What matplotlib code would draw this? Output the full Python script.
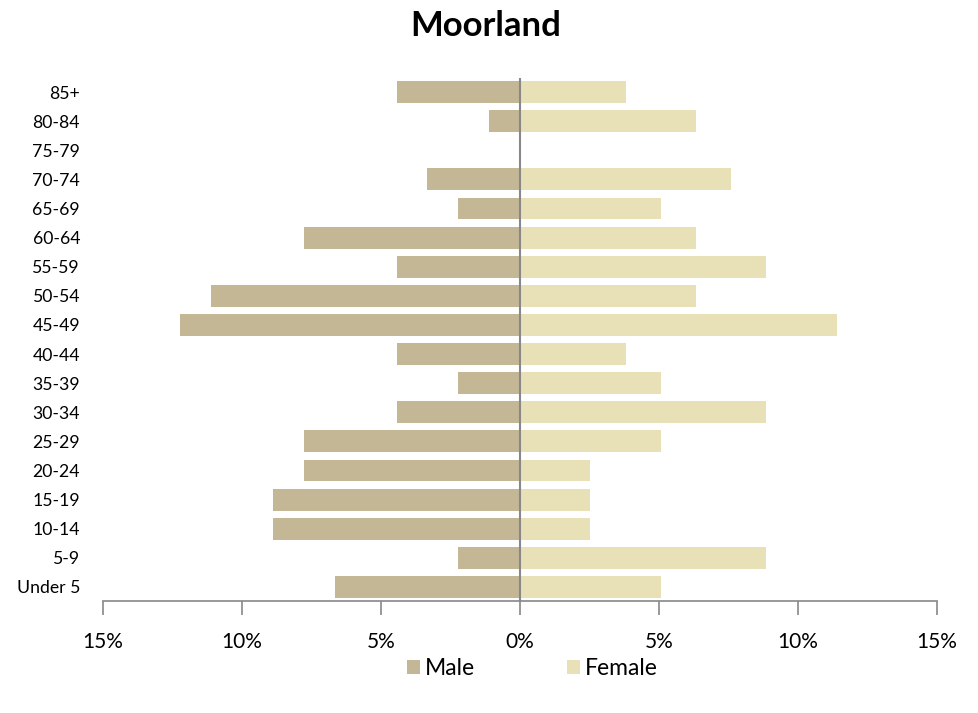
import matplotlib
matplotlib.use("Agg")
from matplotlib import pyplot as plt
from matplotlib.ticker import FuncFormatter
import numpy as np

# age groups, bottom to top
ages = ["Under 5", "5-9", "10-14", "15-19", "20-24", "25-29", "30-34", "35-39",
        "40-44", "45-49", "50-54", "55-59", "60-64", "65-69", "70-74", "75-79",
        "80-84", "85+"]
male = [6.67, 2.22, 8.89, 8.89, 7.78, 7.78, 4.44, 2.22,
        4.44, 12.22, 11.11, 4.44, 7.78, 2.22, 3.33, 0.0,
        1.11, 4.44]
female = [5.06, 8.86, 2.53, 2.53, 2.53, 5.06, 8.86, 5.06,
          3.80, 11.39, 6.33, 8.86, 6.33, 5.06, 7.59, 0.0,
          6.33, 3.80]

plt.rcParams['font.family'] = ['Lato', 'DejaVu Sans']

fig = plt.figure(figsize=(9.79, 7.13), dpi=100)
ax = fig.add_axes([0.1052, 0.1564, 0.8518, 0.7349])

y = np.arange(len(ages))
ax.barh(y, -np.array(male), height=0.75, color="#C4B795", label="Male")
ax.barh(y, female, height=0.75, color="#E8E1B7", label="Female")

ax.set_xlim(-15, 15)
ax.set_ylim(-0.5, len(ages) - 0.5)
ax.set_xticks([-15, -10, -5, 0, 5, 10, 15])
ax.xaxis.set_major_formatter(FuncFormatter(lambda v, p: f"{abs(v):.0f}%"))
ax.set_yticks(y)
ax.set_yticklabels(ages, fontsize=12.7)
ax.tick_params(axis="y", length=0, pad=16.5)
ax.tick_params(axis="x", length=10, width=1.2, color="#888888", pad=12, labelsize=15)

for s in ["top", "right", "left"]:
    ax.spines[s].set_visible(False)
ax.spines["bottom"].set_color("#888888")
ax.spines["bottom"].set_linewidth(1.2)
ax.axvline(0, color="#888888", lw=1.5, zorder=3)

fig.text(0.496, 0.963, "Moorland", fontsize=25, fontweight="bold",
         ha="center", va="center")
fig.legend(loc="center", bbox_to_anchor=(0.544, 0.062), ncol=2, frameon=False,
           fontsize=16.5, handlelength=0.55, handleheight=0.55, columnspacing=4.0,
           handletextpad=0.25)

fig.savefig("out.png", dpi=100)
